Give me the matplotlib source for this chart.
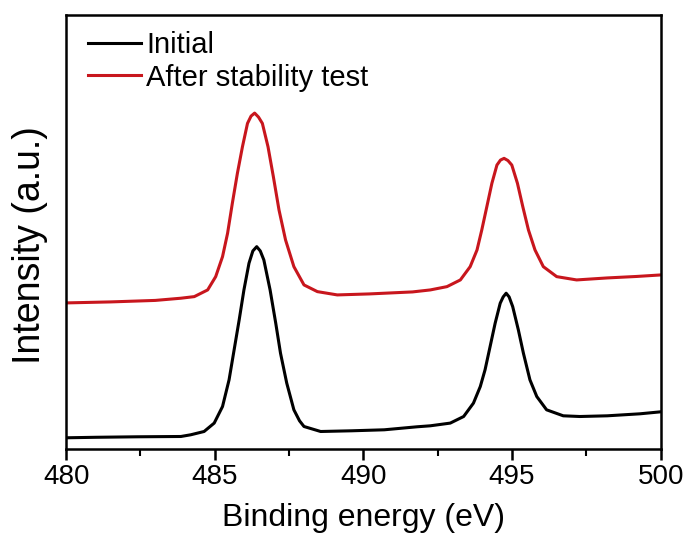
import matplotlib
matplotlib.use("Agg")
import matplotlib.pyplot as plt
from matplotlib.ticker import MultipleLocator

# Data (binding energy in eV, intensity in a.u.)
energy_initial = [
    480.0, 481.0, 482.4, 483.86, 484.19, 484.64, 484.98, 485.26, 485.48, 485.65,
    485.82, 485.98, 486.15, 486.28, 486.41, 486.53, 486.65, 486.86, 487.05, 487.21,
    487.42, 487.66, 487.85, 488.0, 488.56, 489.6, 490.7, 491.8, 492.25, 492.92,
    493.37, 493.7, 493.93, 494.09, 494.26, 494.43, 494.6, 494.7, 494.8, 494.9,
    495.02, 495.21, 495.38, 495.6, 495.83, 496.16, 496.72, 497.28, 498.2, 499.3,
    500.0,
]
intensity_initial = [
    11, 11.5, 12, 12.3, 14, 17.3, 25.7, 42.3, 69, 99,
    129, 159, 185.7, 198, 202.3, 198, 189, 159, 125.7, 95.7,
    65.7, 39, 28, 22.3, 17.3, 18, 19, 22, 23, 25.7,
    32.3, 45.7, 62.3, 79, 102.3, 125.7, 145.7, 152, 155.7, 152,
    142.3, 119, 95.7, 69, 52.3, 39, 33, 32.3, 33, 35,
    37,
]

energy_after = [
    480.0, 481.5, 483.0, 483.86, 484.31, 484.76, 485.03, 485.26, 485.43, 485.59,
    485.76, 485.93, 486.1, 486.22, 486.34, 486.47, 486.6, 486.79, 486.97, 487.16,
    487.38, 487.66, 488.0, 488.45, 489.12, 490.2, 491.65, 492.25, 492.81, 493.26,
    493.59, 493.82, 493.98, 494.15, 494.32, 494.49, 494.61, 494.73, 494.86, 494.99,
    495.18, 495.36, 495.55, 495.77, 496.05, 496.5, 497.17, 498.2, 499.2, 500.0,
]
intensity_after = [
    146, 147, 148.5, 150.7, 152.3, 159, 172.3, 192.3, 215.7, 245.7,
    275.7, 302.3, 325.7, 333, 336, 332, 325.7, 302.3, 272.3, 239,
    209, 182.3, 164, 157.3, 154, 155, 157, 159, 162.3, 169,
    182.3, 199, 219, 242.3, 265.7, 284, 289, 290.7, 288.5, 284,
    265.7, 242.3, 219, 199, 182.3, 172.3, 169, 171, 172.5, 174,
]

plt.rcParams["font.family"] = ["Liberation Sans", "DejaVu Sans"]

fig = plt.figure(figsize=(6.89, 5.42), dpi=100)
ax = fig.add_axes([0.096, 0.172, 0.863, 0.8])

ax.plot(energy_initial, intensity_initial, color="black", linewidth=2.2, label="Initial")
ax.plot(energy_after, intensity_after, color="#C8161D", linewidth=2.2, label="After stability test")

ax.set_xlim(480, 500)
ax.set_ylim(0, 434)
ax.xaxis.set_major_locator(MultipleLocator(5))
ax.xaxis.set_minor_locator(MultipleLocator(2.5))
ax.set_yticks([])
ax.tick_params(axis="x", which="major", length=8, width=1.8, labelsize=20, pad=3)
ax.tick_params(axis="x", which="minor", length=5, width=1.5)
for s in ax.spines.values():
    s.set_linewidth(1.8)

ax.set_xlabel("Binding energy (eV)", fontsize=23, labelpad=9)
ax.set_ylabel("Intensity (a.u.)", fontsize=27)
ax.yaxis.set_label_coords(-0.03, 0.47)

ax.legend(loc="upper left", frameon=False, fontsize=21, handlelength=1.8,
          handletextpad=0.2, labelspacing=0.15, borderaxespad=0.15,
          bbox_to_anchor=(0.01, 1.0))

fig.savefig("out.png", dpi=100)
